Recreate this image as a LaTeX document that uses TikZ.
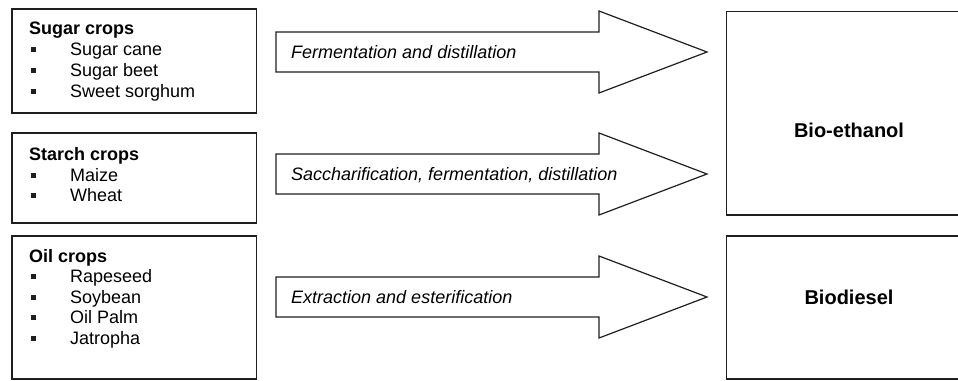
\documentclass[tikz,border=0pt]{standalone}
\usepackage{fontspec}
\setmainfont{Liberation Sans}
\begin{document}
\begin{tikzpicture}[x=1pt,y=-1pt,
  box/.style={draw=black!88,line width=1.5pt},
  fatarrow/.style={draw=black!88,line width=1.2pt,line join=miter},
  txt/.style={inner sep=0pt,anchor=base west,font=\fontsize{18}{21}\selectfont},
  head/.style={txt,font=\fontsize{18}{21}\selectfont\bfseries},
  proc/.style={txt,font=\fontsize{18}{21}\selectfont\itshape},
  prod/.style={inner sep=0pt,anchor=base,font=\fontsize{20}{23}\selectfont\bfseries},
  bul/.style={fill=black!88,inner sep=0pt,minimum size=5pt}]
\useasboundingbox (0,0) rectangle (958,380);
% source boxes
\draw[box] (12,9) rectangle (256.5,113);
\draw[box] (12,133) rectangle (256.5,223);
\draw[box] (12,236) rectangle (256.5,379);
% product boxes
\draw[box] (726.5,11.5) rectangle (962,215);
\draw[box] (726.5,236) rectangle (962,379);
% texts sugar
\node[head] (sugar) at (29,34.5) {Sugar crops};
\foreach \n/\t/\y in {s1/Sugar cane/50, s2/Sugar beet/71, s3/Sweet sorghum/92}{
  \node[bul] (b\n) at (33,\y-1) {};
  \node[txt] (\n) at (70,\y+5.5) {\t};}
\node[head] (starch) at (29,160.5) {Starch crops};
\foreach \n/\t/\y in {t1/Maize/176, t2/Wheat/196}{
  \node[bul] (b\n) at (33,\y-1) {};
  \node[txt] (\n) at (70,\y+5.5) {\t};}
\node[head] (oil) at (29,262.5) {Oil crops};
\foreach \n/\t/\y in {o1/Rapeseed/277, o2/Soybean/298, o3/Oil Palm/318, o4/Jatropha/339}{
  \node[bul] (b\n) at (33,\y-1) {};
  \node[txt] (\n) at (70,\y+5.5) {\t};}
% arrows
\foreach \c/\n in {52/a1, 174/a2, 297/a3}{
  \draw[fatarrow] (276,\c-20) -- (599,\c-20) -- (599,\c-41) -- (707,\c)
     -- (599,\c+41) -- (599,\c+20) -- (276,\c+20) -- cycle;
  \coordinate (\n) at (291,\c+6);}
\node[proc] (p1) at (a1) {Fermentation and distillation};
\node[proc] (p2) at (a2) {Saccharification, fermentation, distillation};
\node[proc] (p3) at (a3) {Extraction and esterification};
\node[prod] (eth) at (849,137) {Bio-ethanol};
\node[prod] (bd) at (849,304) {Biodiesel};
\end{tikzpicture}
\end{document}
